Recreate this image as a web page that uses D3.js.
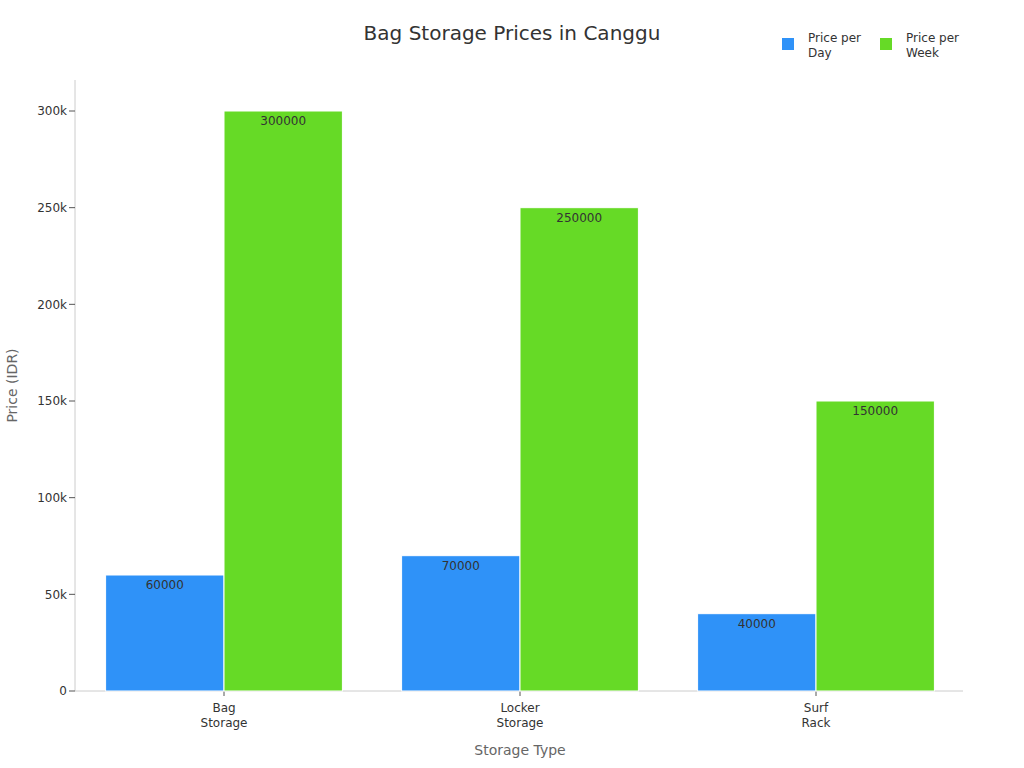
<!DOCTYPE html>
<html><head><meta charset="utf-8">
<script src="https://cdn.jsdelivr.net/npm/d3@7"></script>
<style>body{margin:0;background:#fff;font-family:"DejaVu Sans",sans-serif}</style>
</head><body><div id="main"></div>
<script>
var categories = [["Bag", "Storage"], ["Locker", "Storage"], ["Surf", "Rack"]];
var seriesNames = ["Price per Day", "Price per Week"];
var perDay = [60000, 70000, 40000];
var perWeek = [300000, 250000, 150000];
var tickValues = [0, 50000, 100000, 150000, 200000, 250000, 300000];
var tickLabels = ["0", "50k", "100k", "150k", "200k", "250k", "300k"];

var colors = ["#2f92f8", "#66da26"];
var W = 1024, H = 768, plotLeft = 75, plotRight = 963, plotTop = 80, plotBottom = 691;

var svg = d3.select("#main").append("svg").attr("width", W).attr("height", H);

var x = d3.scaleBand().domain(d3.range(categories.length)).range([plotLeft + 1, plotRight + 1]).paddingInner(0.2).paddingOuter(0.1);
var x1 = d3.scaleBand().domain([0, 1]).range([0, x.bandwidth()]);
var y = d3.scaleLinear().domain([0, 300000]).range([plotBottom, 111]);

// y axis
svg.append("line").attr("x1", plotLeft).attr("x2", plotLeft).attr("y1", plotTop).attr("y2", plotBottom).attr("stroke", "#ccc");
var yt = svg.selectAll(".yt").data(tickValues).enter().append("g").attr("transform", function(d){ return "translate(0," + y(d) + ")"; });
yt.append("line").attr("x1", plotLeft - 6).attr("x2", plotLeft).attr("stroke", "#555");
yt.append("text").attr("x", plotLeft - 8).attr("dy", "0.35em").attr("text-anchor", "end")
  .attr("font-size", 12).attr("fill", "#333").text(function(d, i){ return tickLabels[i]; });

// x axis
svg.append("line").attr("x1", plotLeft).attr("x2", plotRight).attr("y1", plotBottom).attr("y2", plotBottom).attr("stroke", "#ccc");
var xt = svg.selectAll(".xt").data(categories).enter().append("g")
  .attr("transform", function(d, i){ return "translate(" + (x(i) + x.bandwidth() / 2) + "," + plotBottom + ")"; });
xt.append("line").attr("y2", 5).attr("stroke", "#555");
xt.append("text").attr("text-anchor", "middle").attr("font-size", 12).attr("fill", "#333")
  .selectAll("tspan").data(function(d){ return d; }).enter().append("tspan")
  .attr("x", 0).attr("y", function(d, i){ return 21 + i * 15; }).text(function(d){ return d; });

// bars
[perDay, perWeek].forEach(function(vals, s) {
  var g = svg.append("g");
  g.selectAll("rect").data(vals).enter().append("rect")
    .attr("x", function(d, i){ return x(i) + x1(s); })
    .attr("y", function(d){ return y(d); })
    .attr("width", x1.bandwidth())
    .attr("height", function(d){ return plotBottom - y(d); })
    .attr("fill", colors[s]).attr("stroke", "#fff").attr("stroke-width", 1);
  g.selectAll("text").data(vals).enter().append("text")
    .attr("x", function(d, i){ return x(i) + x1(s) + x1.bandwidth() / 2; })
    .attr("y", function(d){ return y(d) + 14; })
    .attr("text-anchor", "middle").attr("font-size", 12).attr("fill", "#333")
    .text(function(d){ return d; });
});

// titles
svg.append("text").attr("x", 512).attr("y", 40).attr("text-anchor", "middle")
  .attr("font-size", 20).attr("fill", "#333").text("Bag Storage Prices in Canggu");
svg.append("text").attr("x", 520).attr("y", 755).attr("text-anchor", "middle")
  .attr("font-size", 14).attr("fill", "#666").text("Storage Type");
svg.append("text").attr("transform", "translate(17," + ((plotTop + plotBottom) / 2) + ") rotate(-90)")
  .attr("text-anchor", "middle").attr("font-size", 14).attr("fill", "#666").text("Price (IDR)");

// legend
var lg = svg.selectAll(".lg").data(seriesNames).enter().append("g")
  .attr("transform", function(d, i){ return "translate(" + (782 + i * 98) + ",38)"; });
lg.append("rect").attr("width", 12).attr("height", 12).attr("y", 0).attr("fill", function(d, i){ return colors[i]; });
lg.append("text").attr("font-size", 12).attr("fill", "#333")
  .selectAll("tspan").data(function(d){ return ["Price per", d.replace("Price per ", "")]; }).enter().append("tspan")
  .attr("x", 26).attr("y", function(d, i){ return 4 + i * 15; }).text(function(d){ return d; });
</script></body></html>
